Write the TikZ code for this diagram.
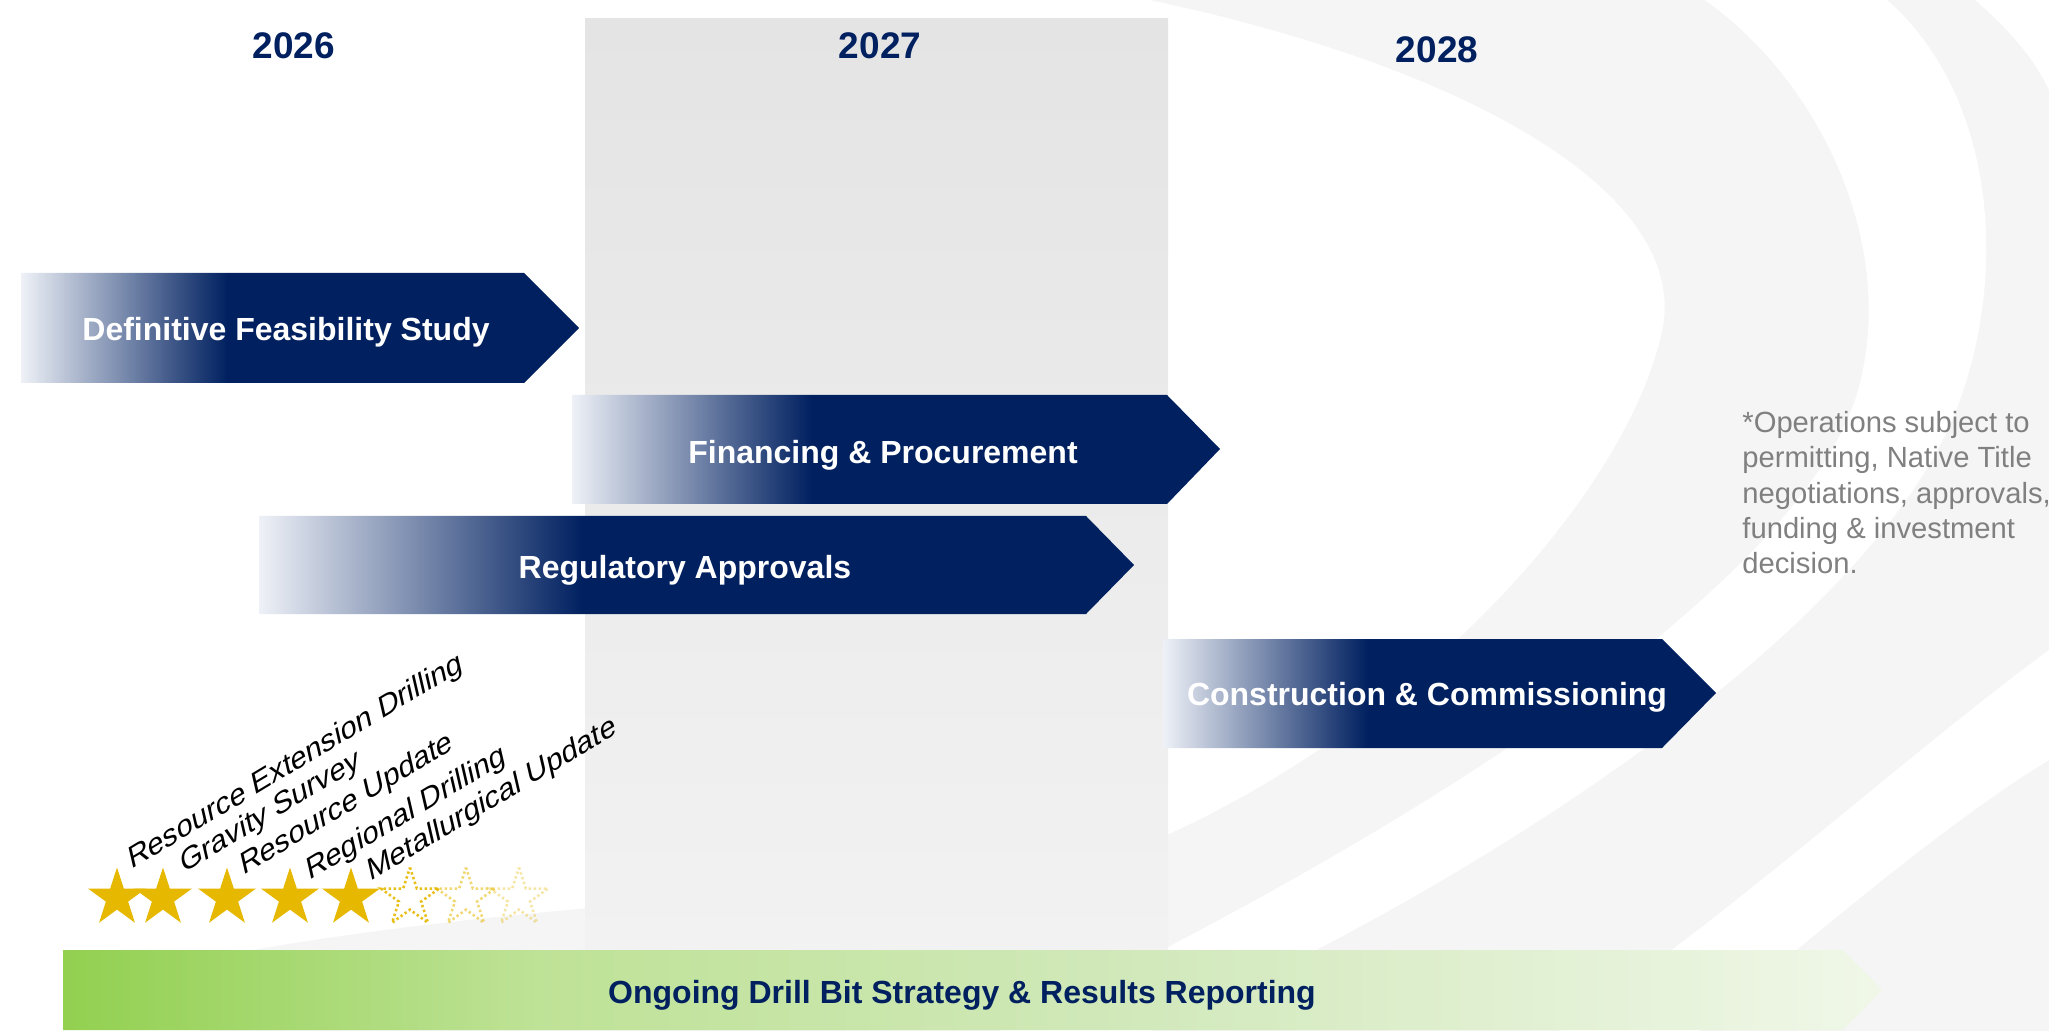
\documentclass[tikz,border=0pt]{standalone}
\usepackage{fontspec}
\setmainfont{Liberation Sans}
\definecolor{navy}{RGB}{0,32,96}
\definecolor{navyL}{RGB}{238,241,247}
\definecolor{gold}{RGB}{230,184,0}
\definecolor{bandgray}{RGB}{245,245,245}
\definecolor{colTop}{RGB}{228,228,228}
\definecolor{colBot}{RGB}{242,242,242}
\definecolor{gA}{RGB}{146,208,80}
\definecolor{gB}{RGB}{190,226,150}
\definecolor{gC}{RGB}{210,233,188}
\definecolor{gD}{RGB}{240,247,232}
\definecolor{notegray}{RGB}{128,128,128}
\pgfdeclarehorizontalshading{navyfade}{100bp}{color(0bp)=(navyL); color(25bp)=(navyL); color(43.5bp)=(navy); color(100bp)=(navy)}
\pgfdeclarehorizontalshading{greenfade}{100bp}{color(0bp)=(gA); color(25bp)=(gA); color(38bp)=(gB); color(55bp)=(gC); color(75bp)=(gD); color(100bp)=(gD)}
\tikzset{
  navyarrow/.style={shading=navyfade, shading angle=0},
  greenarrow/.style={shading=greenfade, shading angle=0},
  barlbl/.style={text=white, font=\bfseries\fontsize{16}{19}\selectfont, inner sep=0},
  greenlbl/.style={text=navy, font=\bfseries\fontsize{16}{19}\selectfont, inner sep=0},
  year/.style={text=navy, font=\bfseries\fontsize{18.5}{22}\selectfont, inner sep=0},
  rotlbl/.style={anchor=base west, inner sep=0, font=\fontsize{15.8}{18}\selectfont, cm={0.857,0.515,-0.214,0.926,(0,0)}},
  note/.style={text=notegray, align=left, anchor=north west, inner sep=0, font=\fontsize{14.6}{17.65}\selectfont},
  mystar/.pic={\path[pic actions] (-90:30.5) -- (-54:11.65) -- (-18:30.5) -- (18:11.65) -- (54:30.5) -- (90:11.65) -- (126:30.5) -- (162:11.65) -- (198:30.5) -- (234:11.65) -- cycle;},
  fullstar/.style={fill=gold},
  dotstar/.style={draw=gold, line width=1.3pt, dash pattern=on 1.2pt off 1.3pt}
}
\begin{document}
\begin{tikzpicture}[x=0.5pt,y=-0.5pt]
\useasboundingbox (0,0) rectangle (2049,1031);
\fill[white] (0,0) rectangle (2049,1031);
% background swooshes
\fill[bandgray] (1150,0) .. controls (1480,70) and (1700,200) .. (1660,340) .. controls (1620,500) and (1420,720) .. (1167,835) .. controls (950,900) and (550,890) .. (200,960) -- (200,1031) -- (2049,1031) -- (2049,0) -- cycle;
\fill[white] (1887,0) .. controls (1990,90) and (2010,260) .. (1960,400) .. controls (1890,600) and (1550,850) .. (1150,1031) -- (1000,1031) .. controls (1420,830) and (1790,590) .. (1855,400) .. controls (1900,260) and (1830,90) .. (1705,0) -- cycle;
\fill[white] (2049,650) .. controls (1900,760) and (1750,900) .. (1560,1031) -- (1700,1031) .. controls (1820,930) and (1950,820) .. (2049,760) -- cycle;
\fill[white] (1975,0) .. controls (2010,30) and (2035,60) .. (2049,90) -- (2049,0) -- cycle;
% 2027 column
\shade[top color=colTop, bottom color=colBot] (585,19) rectangle (1168,950);
% years
\node[year] (y26) at (294,46) {2026};
\node[year] (y27) at (880,46) {2027};
\node[year] (y28) at (1437,50) {2028};
% bars
\shade[navyarrow] (21,273) -- (524,273) -- (579,328) -- (524,383) -- (21,383) -- cycle;
\node[barlbl] (dfs) at (286,332) {Definitive Feasibility Study};
\shade[navyarrow] (572,395) -- (1167,395) -- (1220,449) -- (1167,504) -- (572,504) -- cycle;
\node[barlbl] (fin) at (883,455) {Financing \& Procurement};
\shade[navyarrow] (259,516) -- (1086,516) -- (1134,565) -- (1086,614) -- (259,614) -- cycle;
\node[barlbl] (reg) at (685,570) {Regulatory Approvals};
\shade[navyarrow] (1163,639) -- (1662,639) -- (1716,693) -- (1662,748) -- (1163,748) -- cycle;
\node[barlbl] (con) at (1427,697) {Construction \& Commissioning};
\shade[greenarrow] (63,950) -- (1843,950) -- (1882,990) -- (1843,1030) -- (63,1030) -- cycle;
\node[greenlbl] (drill) at (962,995) {Ongoing Drill Bit Strategy \& Results Reporting};
% stars
\pic[fullstar] at (117,898) {mystar};
\pic[fullstar] at (163,898) {mystar};
\pic[fullstar] at (227,898) {mystar};
\pic[fullstar] at (290,898) {mystar};
\pic[fullstar] at (351,898) {mystar};
\pic[dotstar, draw opacity=0.9] at (410,898) {mystar};
\pic[dotstar, draw opacity=0.55] at (466,898) {mystar};
\pic[dotstar, draw opacity=0.35] at (519,898) {mystar};
% milestone labels
\node[rotlbl] (m1) at (131,870) {Resource Extension Drilling};
\node[rotlbl] (m2) at (183,874) {Gravity Survey};
\node[rotlbl] (m3) at (243,876) {Resource Update};
\node[rotlbl] (m4) at (309,881) {Regional Drilling};
\node[rotlbl] (m5) at (370,882) {Metallurgical Update};
% note
\node[note] (nt) at (1742,411) {*Operations subject to\\permitting, Native Title\\negotiations, approvals,\\funding \& investment\\decision.};
\end{tikzpicture}
\end{document}
